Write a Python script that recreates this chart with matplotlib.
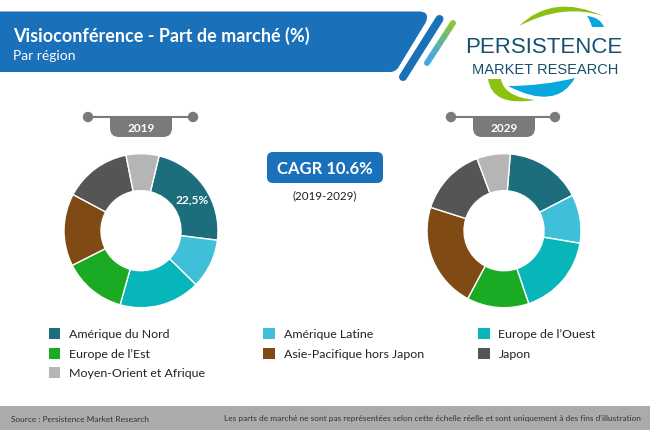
import matplotlib
matplotlib.use("Agg")
import matplotlib.pyplot as plt
from matplotlib.patches import FancyBboxPatch, PathPatch, Rectangle, Circle
from matplotlib.path import Path

regions = ["Amérique du Nord", "Amérique Latine", "Europe de l’Ouest", "Europe de l’Est",
           "Asie-Pacifique hors Japon", "Japon", "Moyen-Orient et Afrique"]
colors = ["#1c6e7d", "#40bfd8", "#06b6b8", "#1aaa24", "#7f4a13", "#555555", "#b5b5b5"]
share_2019 = [23.2, 10.4, 17.0, 13.2, 15.2, 14.1, 6.9]
share_2029 = [16.1, 10.2, 17.2, 13.0, 22.1, 14.4, 7.0]
years = ["2019", "2029"]
label_2019 = "22,5%"
title = "Visioconférence - Part de marché (%)"
subtitle = "Par région"
cagr = "CAGR 10.6%"
cagr_period = "(2019-2029)"
source = "Source : Persistence Market Research"
note = "Les parts de marché ne sont pas représentées selon cette échelle réelle et sont uniquement à des fins d'illustration"
stripe_shades = ["#8cc63f", "#7cbf62", "#6cb885", "#5cb1a8", "#50acc8", "#4aa8e0"]

W, H = 650, 431
FONT = "Lato"
BLUE = "#1a70b9"
GREY = "#7a7a7a"

fig = plt.figure(figsize=(W / 100, H / 100), dpi=100, facecolor="white")
bg = fig.add_axes([0, 0, 1, 1])
bg.set_xlim(0, W)
bg.set_ylim(H, 0)
bg.axis("off")


def shape(verts, codes, **kw):
    bg.add_patch(PathPatch(Path(verts, codes), lw=0, **kw))


M, L, C, Z = Path.MOVETO, Path.LINETO, Path.CURVE3, Path.CLOSEPOLY

# Banner
shape([(0, 12.5), (419, 12.5), (430, 12.5), (426, 23), (398, 69), (395, 73), (390, 73), (0, 73), (0, 12.5)],
      [M, L, C, C, L, C, C, L, Z], fc=BLUE)
bg.plot([439.5, 403], [20, 78], color=BLUE, lw=5.8, solid_capstyle="round")
n = len(stripe_shades)
for i, shade in enumerate(stripe_shades):
    x0, y0 = 453 - 26 * i / n, 24 + 40 * i / n
    x1, y1 = 453 - 26 * (i + 1) / n, 24 + 40 * (i + 1) / n
    bg.plot([x0, x1], [y0, y1], color=shade, lw=4.3, solid_capstyle="round")
bg.text(13, 36, title, color="white", fontsize=13, fontweight="bold", family=FONT, va="center")
bg.text(13, 56.5, subtitle, color="white", fontsize=10, family=FONT, va="center")

# Logo
shape([(519, 27), (553, -6), (603, 17), (563, 4), (519, 27)], [M, C, C, C, C], fc="#8cc011")
shape([(587, 17), (600, 18), (604, 28), (592, 28), (592, 28), (590, 21), (587, 17)],
      [M, C, C, L, L, C, C], fc="#08a8de")
shape([(488, 80), (501, 80), (504, 98), (535, 101), (492, 108), (488, 80)],
      [M, L, C, C, C, C], fc="#8cc011")
shape([(508, 87), (542, 87), (575, 79), (556, 112), (508, 87)], [M, C, C, C, C], fc="#08a8de")
bg.text(544, 47.5, "PERSISTENCE", color="#16506e", fontsize=16, family="Liberation Sans",
        ha="center", va="center")
bg.text(545, 70.5, "MARKET RESEARCH", color="#16506e", fontsize=10.5, family="Liberation Sans",
        ha="center", va="center")

# Donuts
for cx, vals, start, year, dot_l, dot_r in [
    (141, share_2019, 76.4, years[0], 88, 193),
    (504, share_2029, 85.3, years[1], 451, 555),
]:
    R, r = 77, 40
    ax = fig.add_axes([(cx - R) / W, 1 - (231.7 + R) / H, 2 * R / W, 2 * R / H])
    ax.pie(vals, colors=colors, startangle=start, counterclock=False, radius=1,
           wedgeprops=dict(width=1 - r / R, edgecolor="white", linewidth=1))
    ax.set_xlim(-1, 1)
    ax.set_ylim(-1, 1)
    ax.set_aspect("equal")
    ax.patch.set_alpha(0)
    if year == years[0]:
        ax.text((192 - cx) / R, (231.7 - 200) / R, label_2019, color="white", fontsize=8.6,
                fontweight="bold", family=FONT, ha="center", va="center")
    bg.plot([dot_l, dot_r], [118, 118], color=GREY, lw=1.5, zorder=2)
    bg.add_patch(Circle((dot_l, 118), 5.2, fc=GREY, lw=0, zorder=2))
    bg.add_patch(Circle((dot_r, 118), 5.2, fc=GREY, lw=0, zorder=2))
    px0, px1 = cx - 31, cx + 31
    shape([(px0, 118), (px1, 118), (px1, 129), (px1, 138), (px1 - 9, 138), (px0 + 9, 138),
           (px0, 138), (px0, 129), (px0, 118)],
          [M, L, L, C, C, L, C, C, Z], fc=GREY, zorder=2)
    bg.text(cx, 128.5, year, color="white", fontsize=8.6, fontweight="bold", family=FONT,
            ha="center", va="center", zorder=3)

# CAGR
bg.add_patch(FancyBboxPatch((272, 158), 106, 21, boxstyle="round,pad=5,rounding_size=6", lw=0, fc=BLUE))
bg.text(325, 169, cagr, color="white", fontsize=12, fontweight="bold", family=FONT, ha="center", va="center")
bg.text(325, 196, cagr_period, color="#222222", fontsize=8.4, family=FONT, ha="center", va="center")

# Legend
col_x = [48.5, 263, 478]
row_y = [334, 354, 373]
for i, (name, col) in enumerate(zip(regions, colors)):
    x = col_x[i % 3]
    y = row_y[i // 3]
    bg.add_patch(Rectangle((x, y - 5.5), 11.5, 11.5, fc=col, lw=0))
    bg.text(x + 20.5, y + 0.5, name, color="#222222", fontsize=8.9, family=FONT, va="center")

# Footer
bg.add_patch(Rectangle((0, 407), W, 24, fc="#ababab", lw=0))
bg.text(11, 420, source, color="#333333", fontsize=5.95, family=FONT, va="center")
bg.text(641, 419, note, color="#333333", fontsize=5.97, family=FONT, va="center", ha="right")

fig.savefig("out.png", dpi=100, facecolor="white")
